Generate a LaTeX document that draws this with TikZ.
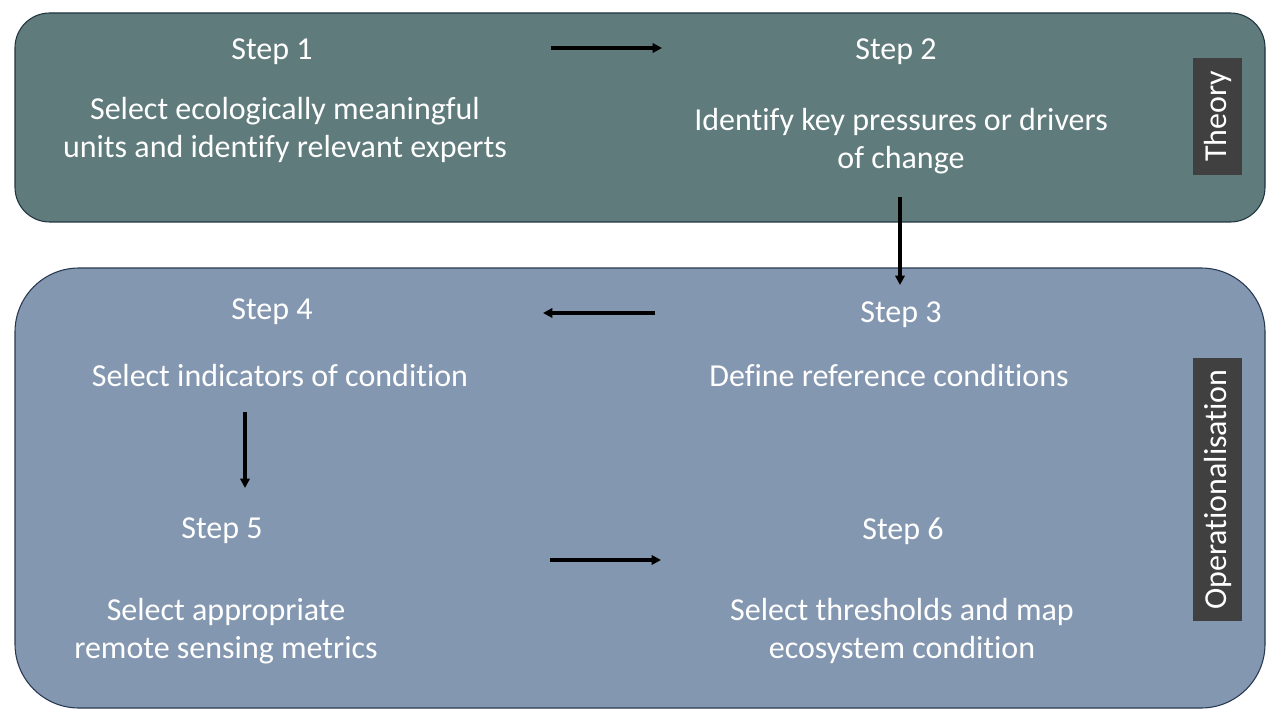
\documentclass[tikz,border=0pt]{standalone}
\usepackage{fontspec}
\setmainfont{Carlito}[Ligatures=NoCommon]
\usetikzlibrary{arrows.meta}

\definecolor{theoryfill}{RGB}{95,123,124}
\definecolor{theoryline}{RGB}{32,52,64}
\definecolor{operfill}{RGB}{132,151,176}
\definecolor{operline}{RGB}{40,56,82}
\definecolor{tagfill}{RGB}{64,64,64}

\begin{document}
\begin{tikzpicture}[x=0.75pt,y=-0.75pt,
    steptitle/.style={text=white,inner sep=0pt,font=\fontsize{24}{29}\selectfont},
    stepdesc/.style={text=white,inner sep=0pt,align=center,font=\fontsize{24}{29}\selectfont},
    tagbox/.style={fill=tagfill,text=white,rotate=90,inner sep=0pt,minimum height=36.75pt,font=\fontsize{24}{29}\selectfont},
    flow/.style={line width=2.4pt,-{Triangle[length=7pt,width=7pt]}}]

    \useasboundingbox (0,0) rectangle (1280,720);

    % panels
    \draw[fill=theoryfill, draw=theoryline, line width=0.8pt, rounded corners=26pt] (15,13) rectangle (1265,222);
    \draw[fill=operfill, draw=operline, line width=0.8pt, rounded corners=48pt] (15,268) rectangle (1265,708);

    \node[tagbox, minimum width=87.75pt]  (theory) at (1217.5,116.5) {Theory};
    \node[tagbox, minimum width=197.25pt] (oper)   at (1217.5,489.5) {Operationalisation};

    % step titles
    \foreach \n/\x/\y in {1/272/52, 2/896/52, 3/901/315, 4/272/312, 5/222/531, 6/903/531}
        \node[steptitle] (t\n) at (\x,\y) {Step \n};

    % step texts
    \node[stepdesc] (d1) at (285,130) {Select ecologically meaningful\\units and identify relevant experts};
    \node[stepdesc] (d2) at (901,141) {Identify key pressures or drivers\\of change};
    \node[stepdesc] (d3) at (889,376) {Define reference conditions};
    \node[stepdesc] (d4) at (280,376) {Select indicators of condition};
    \node[stepdesc] (d5) at (226,631) {Select appropriate\\remote sensing metrics};
    \node[stepdesc] (d6) at (902,631) {Select thresholds and map\\ecosystem condition};

    % arrow ends
    \coordinate (s12) at (551,48);  \coordinate (e12) at (662,48);
    \coordinate (s23) at (900,197); \coordinate (e23) at (900,285);
    \coordinate (s34) at (655,313); \coordinate (e34) at (543,313);
    \coordinate (s45) at (245,412); \coordinate (e45) at (245,488);
    \coordinate (s56) at (550,560); \coordinate (e56) at (661,560);

    \foreach \i in {12,23,34,45,56}
        \draw[flow] (s\i) -- (e\i);

\end{tikzpicture}
\end{document}
